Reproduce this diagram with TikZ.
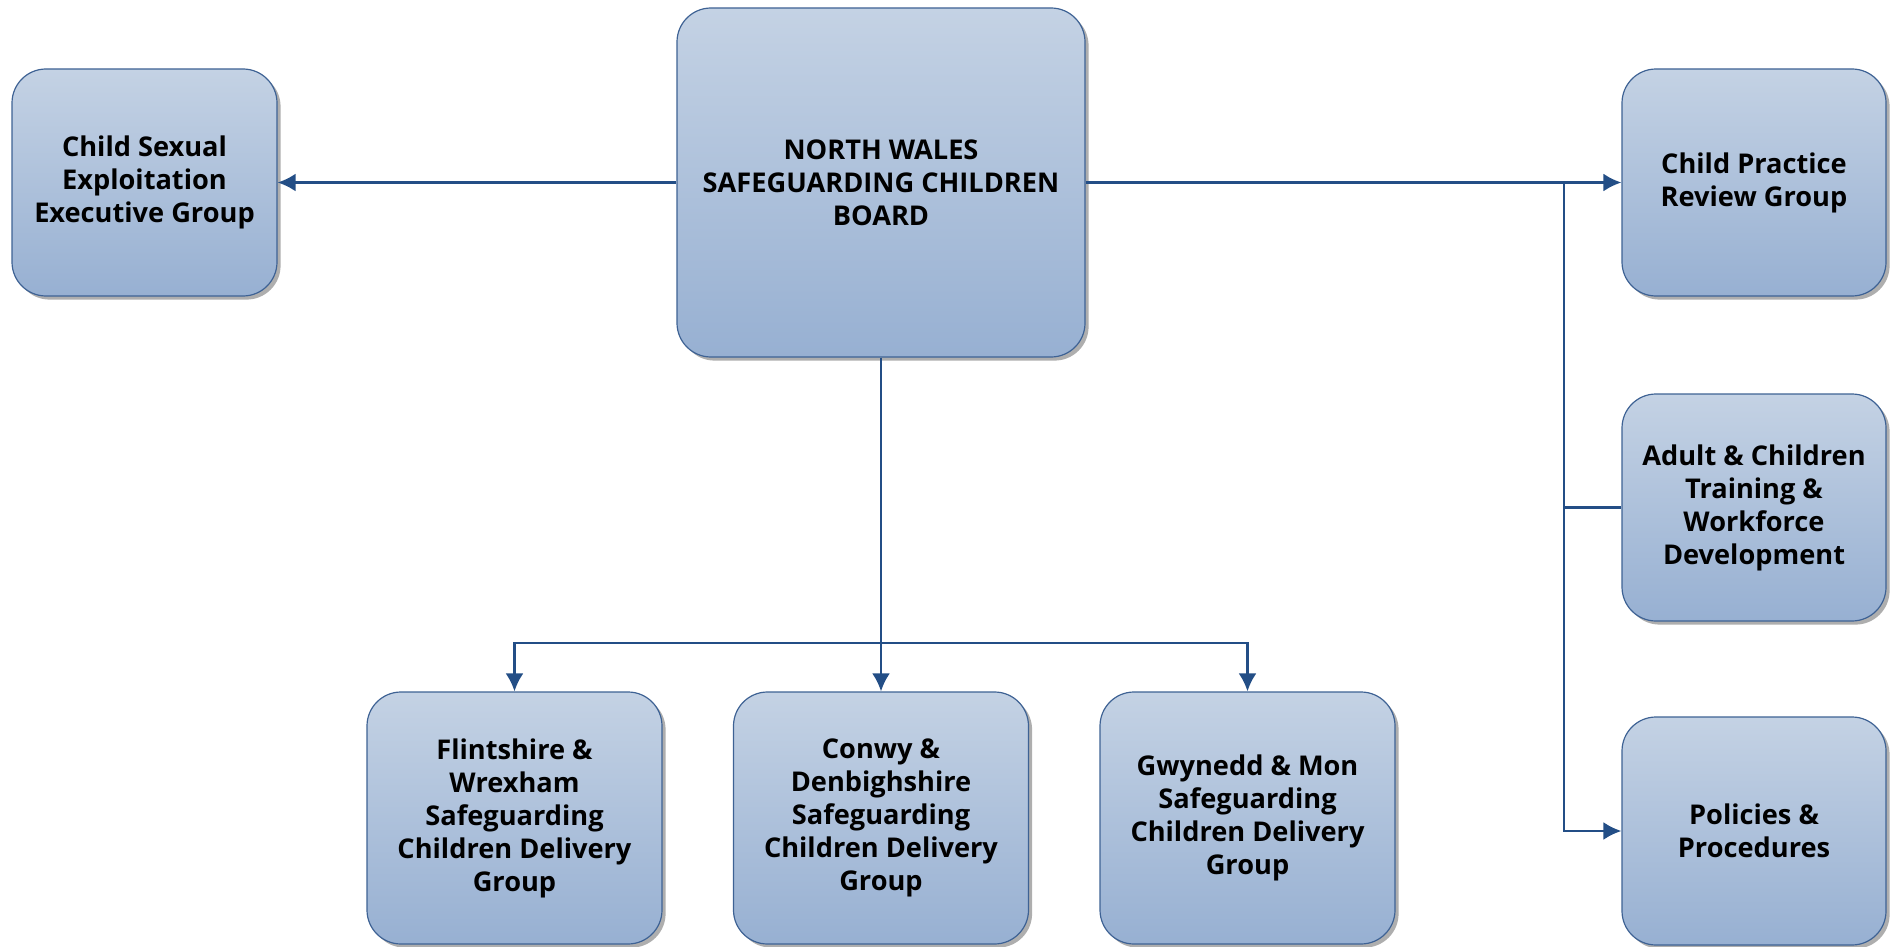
\documentclass[tikz,border=0pt]{standalone}
\usepackage{fontspec}
\setmainfont{Open Sans}
\usetikzlibrary{arrows.meta,shadows}

\definecolor{boxtop}{HTML}{C4D2E4}
\definecolor{boxbot}{HTML}{97B0D2}
\definecolor{boxline}{HTML}{3E6294}
\definecolor{linkblue}{HTML}{234E86}

\tikzset{
  box/.style={draw=boxline, line width=0.6pt, rounded corners=17pt,
    top color=boxtop, bottom color=boxbot, align=center,
    font=\fontsize{13.6}{16.5}\selectfont\bfseries,
    inner sep=0pt,
    drop shadow={shadow xshift=1.8pt, shadow yshift=-1.8pt, fill=black!45, opacity=0.7}},
  link/.style={draw=linkblue, line width=1.3pt},
  tip/.style={-{Latex[length=9pt,width=9pt]}}
}

\begin{document}
\begin{tikzpicture}[x=0.5pt,y=-0.5pt]

    \useasboundingbox (0,0) rectangle (1890,947);

    %board
    \node[box, minimum width=204pt, minimum height=174.5pt] (board) at (881,182.5)
      {NORTH WALES\\SAFEGUARDING CHILDREN\\BOARD};
    %left
    \node[box, minimum width=132.5pt, minimum height=113.5pt] (cse) at (144.5,182.5)
      {Child Sexual\\Exploitation\\Executive Group};
    %right column
    \node[box, minimum width=132pt, minimum height=113.5pt] (cprg) at (1754,182.5)
      {Child Practice\\Review Group};
    \node[box, minimum width=132pt, minimum height=113.5pt] (train) at (1754,507.5)
      {Adult \& Children\\Training \&\\Workforce\\Development};
    \node[box, minimum width=132pt, minimum height=114pt] (pol) at (1754,831)
      {Policies \&\\Procedures};
    %bottom row
    \node[box, minimum width=147.5pt, minimum height=126pt] (flint) at (514.5,818)
      {Flintshire \&\\Wrexham\\Safeguarding\\Children Delivery\\Group};
    \node[box, minimum width=147.5pt, minimum height=126pt] (conwy) at (881,818)
      {Conwy \&\\Denbighshire\\Safeguarding\\Children Delivery\\Group};
    \node[box, minimum width=147.5pt, minimum height=126pt] (gwyn) at (1247.5,818)
      {Gwynedd \& Mon\\Safeguarding\\Children Delivery\\Group};

    %junctions
    \coordinate (rjoin) at (1564,182.5);
    \coordinate (bjoin) at (881,643);

    \draw[link, tip] (board.west) -- (cse.east);
    \draw[link, tip] (board.east) -- (cprg.west);
    \draw[link, tip] (rjoin) |- (pol.west);
    \draw[link] (rjoin |- train.west) -- (train.west);
    \draw[link, tip] (board.south) -- (conwy.north);
    \draw[link, tip] (bjoin) -| (flint.north);
    \draw[link, tip] (bjoin) -| (gwyn.north);

  \end{tikzpicture}
\end{document}
